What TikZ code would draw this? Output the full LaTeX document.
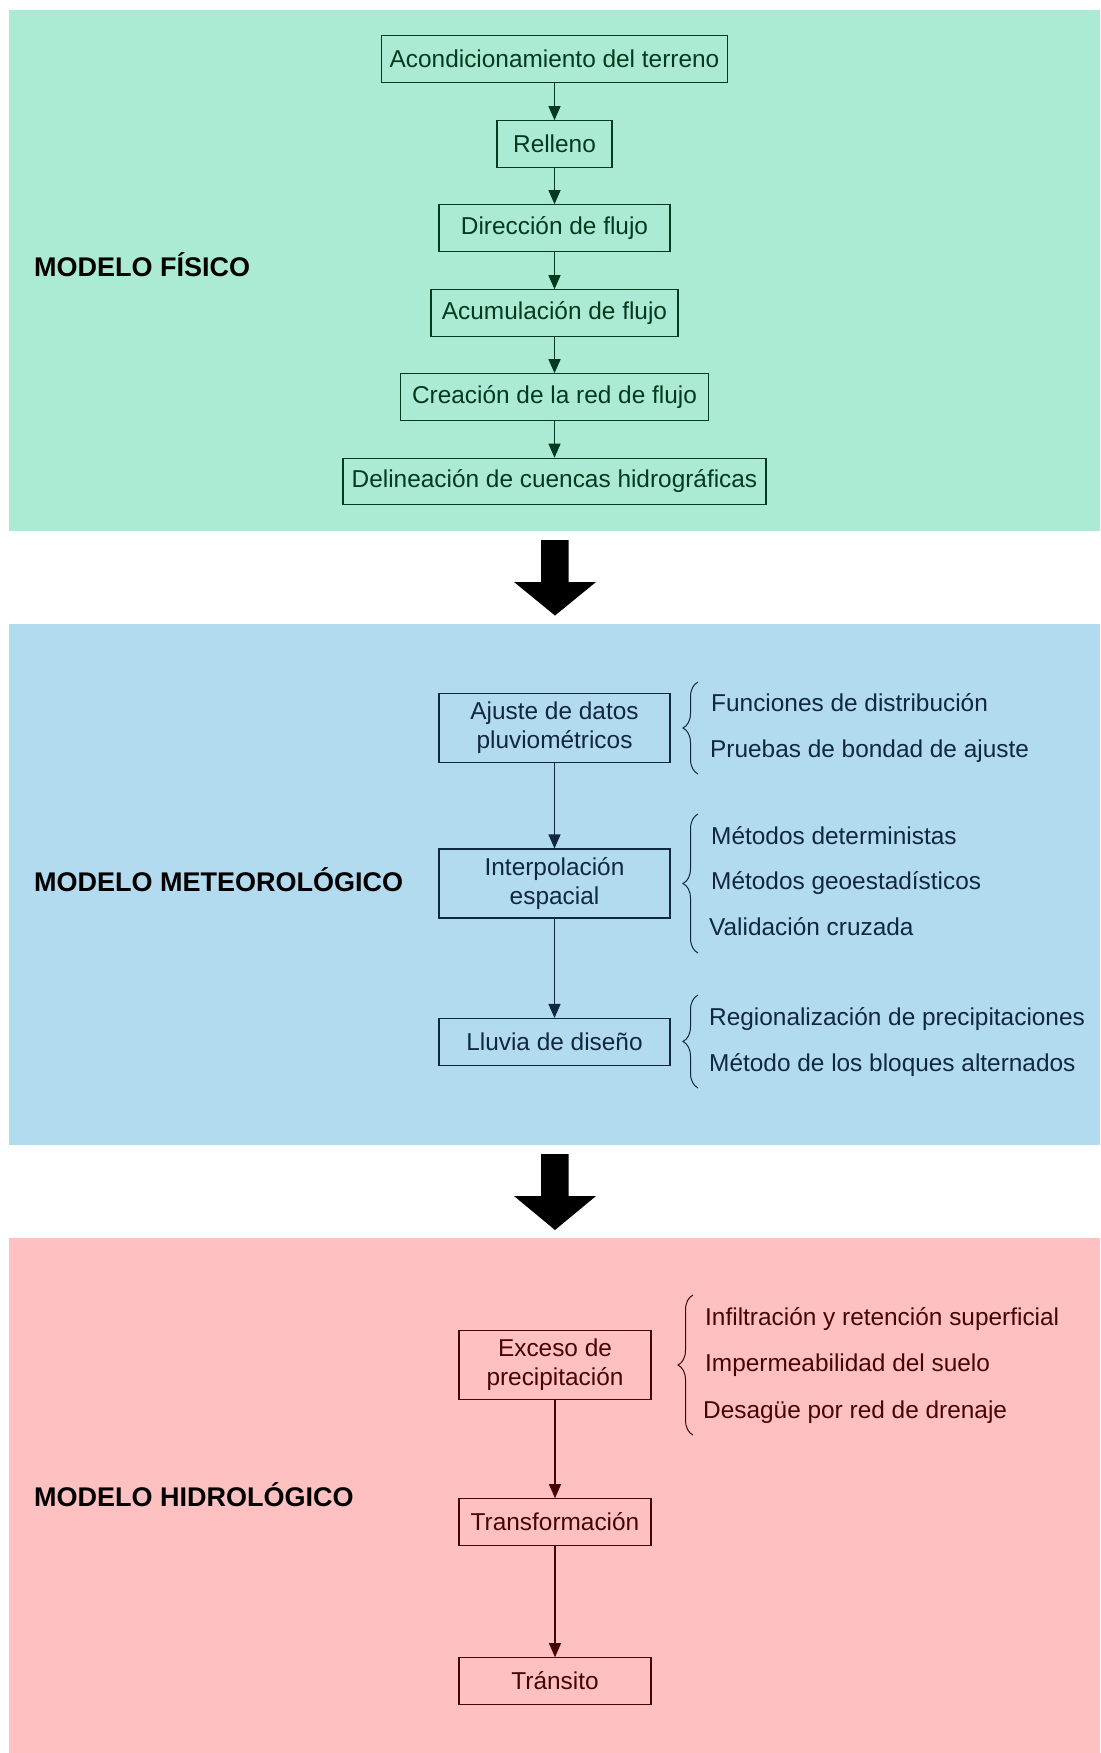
\documentclass[tikz,border=0pt]{standalone}
\usepackage{fontspec}
\setmainfont{Liberation Sans}
\usetikzlibrary{arrows.meta,decorations.pathreplacing}
\definecolor{gbg}{RGB}{172,235,211}
\definecolor{bbg}{RGB}{179,219,239}
\definecolor{rbg}{RGB}{254,192,192}
\definecolor{gfg}{RGB}{0,58,30}
\definecolor{bfg}{RGB}{15,39,66}
\definecolor{rfg}{RGB}{70,5,5}
\begin{document}
\begin{tikzpicture}[x=1pt,y=-1pt,
  boxtext/.style={font=\fontsize{24.4}{29}\selectfont},
  stepbox/.style={draw,line width=1.1pt,boxtext,align=center,inner sep=0pt,minimum height=46.5pt},
  gbox/.style={stepbox,draw=gfg,text=gfg},
  bbox/.style={stepbox,draw=bfg,text=bfg,minimum width=231pt},
  rbox/.style={stepbox,draw=rfg,text=rfg,minimum width=192pt},
  flow/.style={line width=1.1pt,-{Triangle[width=12pt,length=14pt]}},
  side/.style={boxtext,anchor=base west,inner sep=0pt},
  title/.style={font=\fontsize{27}{30}\selectfont\bfseries,anchor=base west,inner sep=0pt,text=black},
  bigarrow/.style={fill=black},
  bracestyle/.style={decorate,decoration={brace,amplitude=15pt},line width=1pt}
]
\useasboundingbox (0,0) rectangle (1100,1753);
\fill[white] (0,0) rectangle (1100,1753);
% panels
\fill[gbg] (9,10) rectangle (1100,531);
\fill[bbg] (9,624) rectangle (1100,1145);
\fill[rbg] (9,1238) rectangle (1100,1753);

% big arrows
\fill[bigarrow] (541,540) -- (568.5,540) -- (568.5,582) -- (596,582) -- (555,615.5) -- (514,582) -- (541,582) -- cycle;
\fill[bigarrow] (541,1154) -- (568.5,1154) -- (568.5,1196) -- (596,1196) -- (555,1230) -- (514,1196) -- (541,1196) -- cycle;

% titles
\node[title] (t1) at (34,276.5) {MODELO FÍSICO};
\node[title] (t2) at (34,891) {MODELO METEOROLÓGICO};
\node[title] (t3) at (34,1506.5) {MODELO HIDROLÓGICO};

% green
\node[gbox,minimum width=346pt] (g1) at (554.5,59) {Acondicionamiento del terreno};
\node[gbox,minimum width=115pt] (g2) at (554.5,144) {Relleno};
\node[gbox,minimum width=231pt] (g3) at (554.5,228) {Dirección de flujo};
\node[gbox,minimum width=247pt] (g4) at (554.5,313) {Acumulación de flujo};
\node[gbox,minimum width=308pt] (g5) at (554.5,397) {Creación de la red de flujo};
\node[gbox,minimum width=423pt] (g6) at (554.5,481.5) {Delineación de cuencas hidrográficas};
\foreach \a/\b in {g1/g2,g2/g3,g3/g4,g4/g5,g5/g6}
  \draw[flow,draw=gfg,fill=gfg] (\a) -- (\b);

% blue
\node[bbox,minimum height=69.5pt] (b1) at (554.5,728) {Ajuste de datos\\pluviométricos};
\node[bbox,minimum height=69pt] (b2) at (554.5,883.5) {Interpolación\\espacial};
\node[bbox,minimum height=47pt] (b3) at (554.5,1042) {Lluvia de diseño};
\draw[flow,draw=bfg,fill=bfg] (b1) -- (b2);
\draw[flow,draw=bfg,fill=bfg] (b2) -- (b3);

\coordinate (br1a) at (698,774); \coordinate (br1b) at (698,682);
\coordinate (br2a) at (698,953); \coordinate (br2b) at (698,814);
\coordinate (br3a) at (698,1088); \coordinate (br3b) at (698,995);
\draw[bracestyle,draw=bfg] (br1a) -- (br1b);
\draw[bracestyle,draw=bfg] (br2a) -- (br2b);
\draw[bracestyle,draw=bfg] (br3a) -- (br3b);
\node[side,text=bfg] (s1) at (711,711.5) {Funciones de distribución};
\node[side,text=bfg] (s2) at (710,757) {Pruebas de bondad de ajuste};
\node[side,text=bfg] (s3) at (711,844) {Métodos deterministas};
\node[side,text=bfg] (s4) at (711,889.5) {Métodos geoestadísticos};
\node[side,text=bfg] (s5) at (709,935.5) {Validación cruzada};
\node[side,text=bfg] (s6) at (709,1025) {Regionalización de precipitaciones};
\node[side,text=bfg] (s7) at (709,1071) {Método de los bloques alternados};

% red
\node[rbox,minimum height=69.5pt] (r1) at (555,1365) {Exceso de\\precipitación};
\node[rbox] (r2) at (555,1522) {Transformación};
\node[rbox] (r3) at (555,1681) {Tránsito};
\draw[flow,draw=rfg,fill=rfg] (r1) -- (r2);
\draw[flow,draw=rfg,fill=rfg] (r2) -- (r3);

\coordinate (br4a) at (693,1435); \coordinate (br4b) at (693,1295);
\draw[bracestyle,draw=rfg] (br4a) -- (br4b);
\node[side,text=rfg] (h1) at (705,1325) {Infiltración y retención superficial};
\node[side,text=rfg] (h2) at (705,1371) {Impermeabilidad del suelo};
\node[side,text=rfg] (h3) at (703,1418) {Desagüe por red de drenaje};
\end{tikzpicture}
\end{document}
